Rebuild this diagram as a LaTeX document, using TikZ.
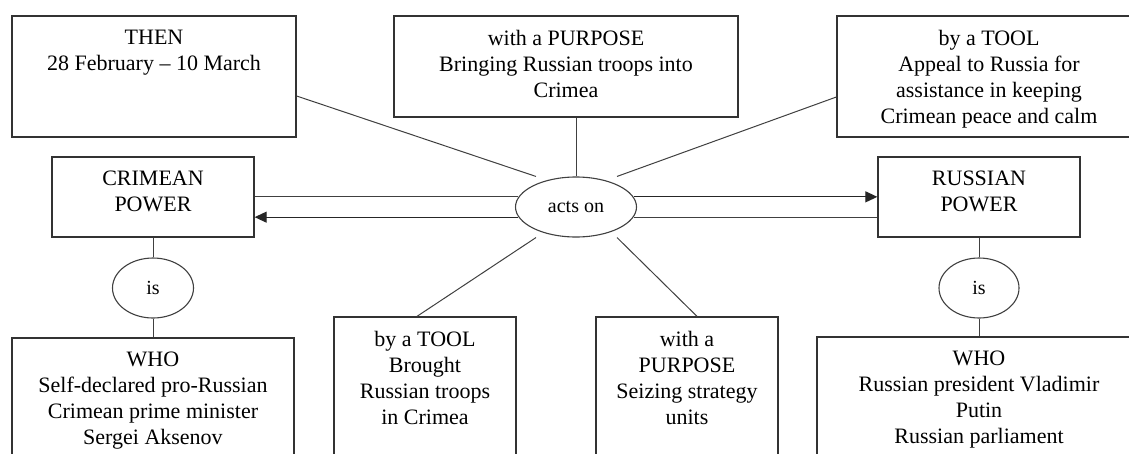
\documentclass[tikz,border=0pt]{standalone}
\usepackage{fontspec}
\setmainfont{Liberation Serif}
\usetikzlibrary{shapes.geometric,arrows.meta,calc}
\begin{document}
\begin{tikzpicture}[x=1pt,y=-1pt,
  frame/.style={draw=black!80, line width=1.3pt, rectangle, inner sep=0pt},
  oval/.style={draw=black!75, line width=1.1pt, ellipse, inner sep=0pt,
    font=\fontsize{20}{24}\selectfont},
  boxtext/.style={anchor=north, inner sep=0pt, align=center,
    font=\fontsize{22}{26}\selectfont},
  link/.style={draw=black!75, line width=1pt},
  flow/.style={draw=black!85, line width=1.1pt, -{Triangle[length=12pt,width=11pt]}}
]
\useasboundingbox (0,0) rectangle (1129,453);
\clip (0,0) rectangle (1129,453);
\fill[white] (0,0) rectangle (1129,453);

% frames
\node[frame, minimum width=284pt, minimum height=121pt] (then)     at (154,76.5) {};
\node[frame, minimum width=344pt, minimum height=101pt] (purpose)  at (566,66.5) {};
\node[frame, minimum width=304pt, minimum height=121pt] (tooltop)  at (989,76.5) {};
\node[frame, minimum width=202pt, minimum height=80pt]  (crimean)  at (153,197) {};
\node[frame, minimum width=202pt, minimum height=80pt]  (russian)  at (979,197) {};
\node[frame, minimum width=282pt, minimum height=150pt] (wholeft)  at (153,413) {};
\node[frame, minimum width=182pt, minimum height=150pt] (toolbot)  at (425,392) {};
\node[frame, minimum width=182pt, minimum height=150pt] (purpbot)  at (687,392) {};
\node[frame, minimum width=324pt, minimum height=150pt] (whoright) at (979,412) {};

% frame texts
\node[boxtext] (thenT)     at (154,30)  {THEN\\28 February – 10 March};
\node[boxtext] (purposeT)  at (566,30)  {with a PURPOSE\\Bringing Russian troops into\\Crimea};
\node[boxtext] (tooltopT)  at (989,30)  {by a TOOL\\Appeal to Russia for\\assistance in keeping\\Crimean peace and calm};
\node[boxtext] (crimeanT)  at (153,171) {CRIMEAN\\POWER};
\node[boxtext] (russianT)  at (979,171) {RUSSIAN\\POWER};
\node[boxtext] (wholeftT)  at (153,352) {WHO\\Self-declared pro-Russian\\Crimean prime minister\\Sergei Aksenov};
\node[boxtext] (toolbotT)  at (425,331) {by a TOOL\\Brought\\Russian troops\\in Crimea};
\node[boxtext] (purpbotT)  at (687,331) {with a\\PURPOSE\\Seizing strategy\\units};
\node[boxtext] (whorightT) at (979,351) {WHO\\Russian president Vladimir\\Putin\\Russian parliament};

% relation ovals
\node[oval, minimum width=121pt, minimum height=60pt] (acts) at (576,207) {acts on};
\node[oval, minimum width=81pt,  minimum height=60pt] (isleft)  at (153,288) {is};
\node[oval, minimum width=80pt,  minimum height=60pt] (isright) at (979,288) {is};

% spokes around "acts on"
\draw[link] ([yshift=-19.5pt]then.east) -- ($(acts.north)+(-40,0)$);
\draw[link] (purpose.south -| acts.north) -- (acts.north);
\draw[link] ([yshift=-20.5pt]tooltop.west) -- ($(acts.north)+(41,0)$);
\draw[link] ([xshift=-8pt]toolbot.north) -- ($(acts.south)+(-40,0)$);
\draw[link] ([xshift=10pt]purpbot.north) -- ($(acts.south)+(41,0)$);

% flows between the powers
\draw[link] (crimean.east |- acts.170) -- (acts.170);
\draw[flow] (acts.10) -- (russian.west |- acts.10);
\draw[link] (russian.west |- acts.350) -- (acts.350);
\draw[flow] (acts.190) -- (crimean.east |- acts.190);

% "is" links
\draw[link] (crimean.south) -- (isleft.north);
\draw[link] (isleft.south) -- (wholeft.north);
\draw[link] (russian.south) -- (isright.north);
\draw[link] (isright.south) -- (whoright.north);
\end{tikzpicture}
\end{document}
